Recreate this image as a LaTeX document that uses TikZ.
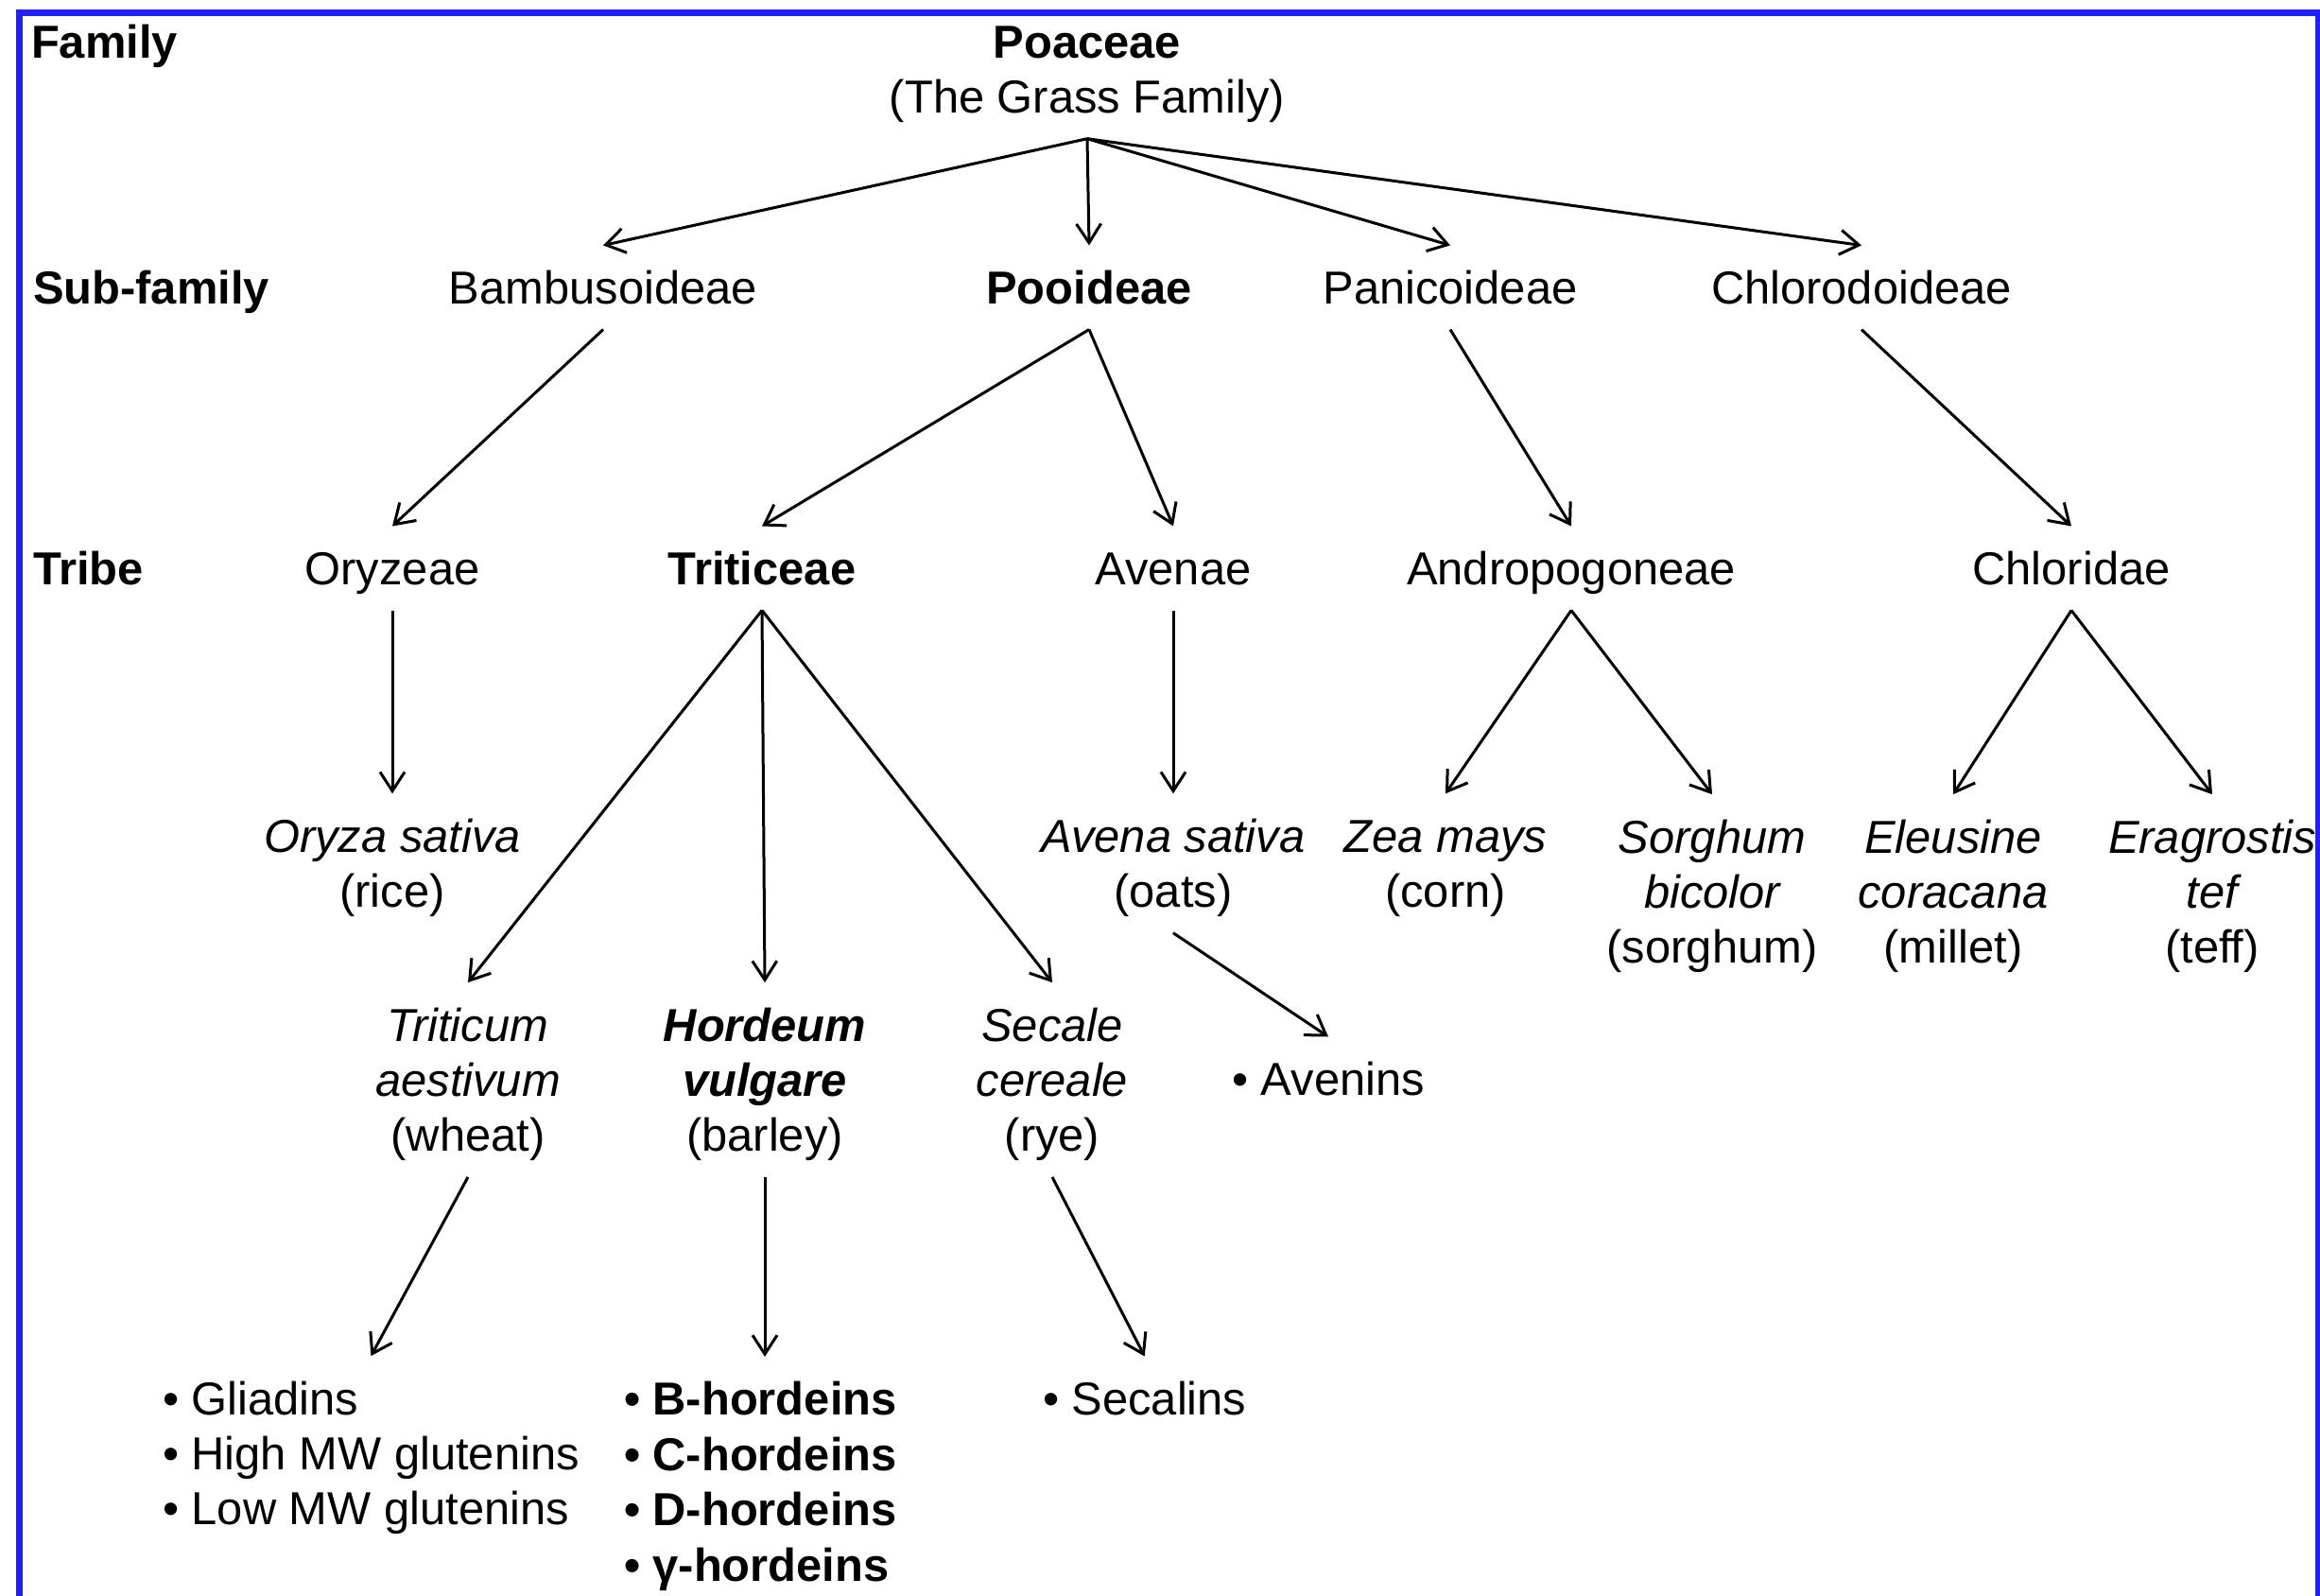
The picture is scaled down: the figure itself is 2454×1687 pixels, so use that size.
\documentclass[tikz,border=0pt]{standalone}
\usepackage{fontspec}
\setmainfont{Liberation Sans}
\usetikzlibrary{arrows.meta}
\newcommand{\lne}[1]{\rule{0pt}{0.716em}\smash{#1}}
\definecolor{frameblue}{RGB}{32,32,255}
\begin{document}
\begin{tikzpicture}[x=0.01cm,y=-0.01cm,
  every node/.style={font=\fontsize{13.9pt}{16.6pt}\selectfont, inner sep=0pt, outer xsep=0pt, outer ysep=0.27cm},
  txt/.style={align=center},
  lab/.style={anchor=west, font=\fontsize{13.9pt}{16.6pt}\selectfont\bfseries},
  lst/.style={align=left, anchor=west},
  arr/.style={line width=0.03cm, -{Straight Barb[length=0.2cm,width=0.26cm]}},
  frame/.style={draw=frameblue, line width=0.07cm}]
\useasboundingbox (0,0) rectangle (2454,1687);
\fill[white] (0,0) rectangle (2454,1687);
\draw[frame] (20.5,1690) -- (20.5,13.5) -- (2452,13.5) -- (2452,1690);

% row labels
\node[lab] (lfam) at (33,44) {\lne{Family}};
\node[lab] (lsub) at (35,304) {\lne{Sub-family}};
\node[lab] (ltri) at (35,601) {\lne{Tribe}};

% family
\node[txt] (poa) at (1150,73) {\lne{\bfseries Poaceae}\\\lne{(The Grass Family)}};

% sub-families
\node (bam) at (638,304) {\lne{Bambusoideae}};
\node (poo) at (1152,304) {\lne{\bfseries Pooideae}};
\node (pan) at (1534,304) {\lne{Panicoideae}};
\node (chl) at (1969,304) {\lne{Chlorodoideae}};

% tribes
\node (ory) at (415,601) {\lne{Oryzeae}};
\node (tri) at (806,601) {\lne{\bfseries Triticeae}};
\node (ave) at (1241,601) {\lne{Avenae}};
\node (and) at (1662,601) {\lne{Andropogoneae}};
\node (chd) at (2191,601) {\lne{Chloridae}};

% species
\node[txt] (osat) at (415,913) {\lne{\itshape Oryza sativa}\\\lne{(rice)}};
\node[txt] (asat) at (1241,913) {\lne{\itshape Avena sativa}\\\lne{(oats)}};
\node[txt] (zea) at (1529,913) {\lne{\itshape Zea mays}\\\lne{(corn)}};
\node[txt] (sor) at (1811,943) {\lne{\itshape Sorghum}\\\lne{\itshape bicolor}\\\lne{(sorghum)}};
\node[txt] (ele) at (2066,943) {\lne{\itshape Eleusine}\\\lne{\itshape coracana}\\\lne{(millet)}};
\node[txt] (era) at (2340,943) {\lne{\itshape Eragrostis}\\\lne{\itshape tef}\\\lne{(teff)}};

\node[txt] (trit) at (495,1142) {\lne{\itshape Triticum}\\\lne{\itshape aestivum}\\\lne{(wheat)}};
\node[txt] (hor) at (809,1142) {\lne{\bfseries\itshape Hordeum}\\\lne{\bfseries\itshape vulgare}\\\lne{(barley)}};
\node[txt] (sec) at (1113,1142) {\lne{\itshape Secale}\\\lne{\itshape cereale}\\\lne{(rye)}};
\node (aven) at (1405,1141) {\lne{• Avenins}};

% proteins
\node[lst] (glil) at (172,1537) {\lne{• Gliadins}\\\lne{• High MW glutenins}\\\lne{• Low MW glutenins}};
\node[lst] (horl) at (660,1567) {\lne{\bfseries • B-hordeins}\\\lne{\bfseries • C-hordeins}\\\lne{\bfseries • D-hordeins}\\\lne{\bfseries • γ-hordeins}};
\node[lst] (secl) at (1103,1479) {\lne{• Secalins}};

% connectors
\draw[arr] (poa.south) -- (bam.north);
\draw[arr] (poa.south) -- (poo.north);
\draw[arr] (poa.south) -- (pan.north);
\draw[arr] (poa.south) -- (chl.north);

\draw[arr] (bam.south) -- (ory.north);
\draw[arr] (poo.south) -- (tri.north);
\draw[arr] (poo.south) -- (ave.north);
\draw[arr] (pan.south) -- (and.north);
\draw[arr] (chl.south) -- (chd.north);

\draw[arr] (ory.south) -- (osat.north);
\draw[arr] (tri.south) -- (trit.north);
\draw[arr] (tri.south) -- (hor.north);
\draw[arr] (tri.south) -- (sec.north);
\draw[arr] (ave.south) -- (asat.north);
\draw[arr] (and.south) -- (zea.north);
\draw[arr] (and.south) -- (sor.north);
\draw[arr] (chd.south) -- (ele.north);
\draw[arr] (chd.south) -- (era.north);

\draw[arr] (asat.south) -- (aven.north);
\draw[arr] (trit.south) -- (glil.north);
\draw[arr] (hor.south) -- (horl.north -| hor.south);
\draw[arr] (sec.south) -- (secl.north);
\end{tikzpicture}
\end{document}
